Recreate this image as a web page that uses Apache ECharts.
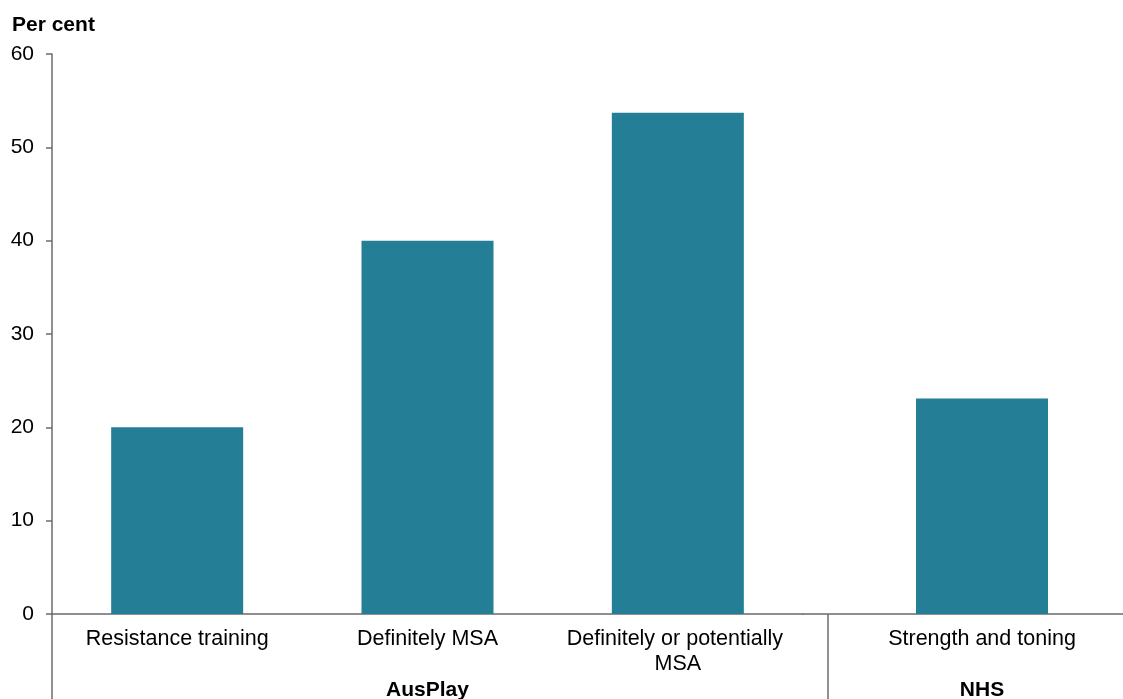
<!DOCTYPE html>
<html>
<head>
<meta charset="utf-8">
<script src="https://cdn.jsdelivr.net/npm/echarts@6/dist/echarts.min.js"></script>
<style>
html,body{margin:0;padding:0;background:#fff;}
#chart{width:1123px;height:699px;}
</style>
</head>
<body>
<div id="chart"></div>
<script>
const yAxisTitle = 'Per cent';
const yMin = 0, yMax = 60, yInterval = 10;
const ausplayCategories = ['Resistance training', 'Definitely MSA', 'Definitely or potentially MSA'];
const ausplayValues = [20, 40, 53.7];
const nhsCategories = ['Strength and toning'];
const nhsValues = [23.1];
const groupLabels = ['AusPlay', 'NHS'];

const FONT = 'Liberation Sans, Arial, sans-serif';
const BAR = '#247F96';
const AXIS = '#6b6b6b';

const chart = echarts.init(document.getElementById('chart'), null, {renderer: 'canvas'});
const catLabel = {fontFamily: FONT, fontSize: 21.5, color: '#000', lineHeight: 25, margin: 13, interval: 0, width: 240, overflow: 'break'};
const groupLabel = {fontFamily: FONT, fontSize: 21, fontWeight: 'bold', color: '#000', lineHeight: 25, margin: 10, interval: 0};

chart.setOption({
  animation: false,
  backgroundColor: '#fff',
  title: {text: yAxisTitle, left: 7, top: 10, textStyle: {fontFamily: FONT, fontSize: 21, fontWeight: 'bold', color: '#000'}},
  grid: [
    {left: 52, top: 54, height: 560, width: 751, containLabel: false, outerBoundsMode: 'none'},
    {left: 803, top: 54, height: 560, width: 358, containLabel: false, outerBoundsMode: 'none'}
  ],
  xAxis: [
    {gridIndex: 0, type: 'category', data: ausplayCategories, axisLine: {lineStyle: {color: AXIS, width: 1.5}}, axisTick: {show: false}, axisLabel: catLabel},
    {gridIndex: 1, type: 'category', data: nhsCategories, axisLine: {lineStyle: {color: AXIS, width: 1.5}}, axisTick: {show: false}, axisLabel: catLabel},
    {gridIndex: 0, type: 'category', data: [groupLabels[0]], position: 'bottom', offset: 54, axisLine: {show: false}, axisTick: {show: false}, axisLabel: groupLabel},
    {gridIndex: 1, type: 'category', data: [groupLabels[1]], position: 'bottom', offset: 54, axisLine: {show: false}, axisTick: {show: false}, axisLabel: groupLabel}
  ],
  yAxis: [
    {gridIndex: 0, type: 'value', min: yMin, max: yMax, interval: yInterval,
     axisLine: {show: true, lineStyle: {color: AXIS, width: 1.5}},
     axisTick: {show: true, length: 6, lineStyle: {color: AXIS, width: 1.5}},
     axisLabel: {fontFamily: FONT, fontSize: 21, color: '#000', margin: 18},
     splitLine: {show: false}},
    {gridIndex: 1, type: 'value', min: yMin, max: yMax, interval: yInterval, show: false, splitLine: {show: false}}
  ],
  series: [
    {type: 'bar', xAxisIndex: 0, yAxisIndex: 0, data: ausplayValues, barWidth: 132, itemStyle: {color: BAR}},
    {type: 'bar', xAxisIndex: 1, yAxisIndex: 1, data: nhsValues, barWidth: 132, itemStyle: {color: BAR}}
  ],
  graphic: [
    {type: 'line', shape: {x1: 52, y1: 614, x2: 52, y2: 699}, style: {stroke: AXIS, lineWidth: 1.5}},
    {type: 'line', shape: {x1: 828, y1: 614, x2: 828, y2: 699}, style: {stroke: AXIS, lineWidth: 1.5}}
  ]
});
</script>
</body>
</html>
